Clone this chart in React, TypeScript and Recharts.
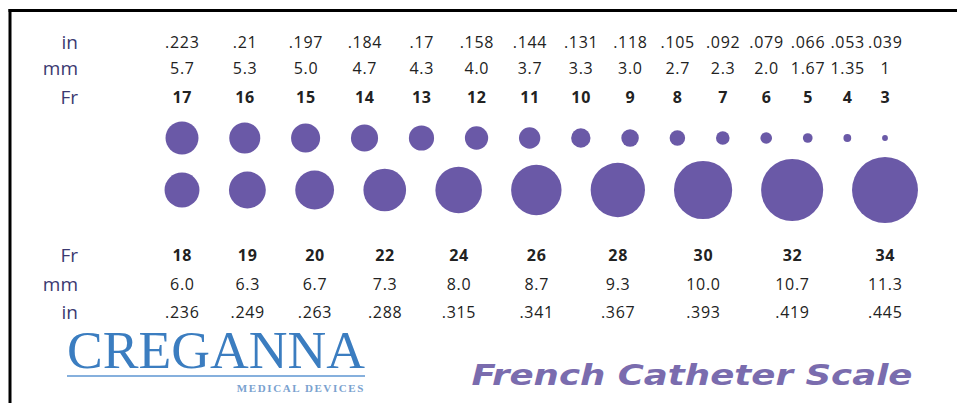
import React from 'react';
import { ScatterChart, Scatter, XAxis, YAxis, Customized } from 'recharts';

// ---- data ----
const topFr = [17, 16, 15, 14, 13, 12, 11, 10, 9, 8, 7, 6, 5, 4, 3];
const topMm = ['5.7', '5.3', '5.0', '4.7', '4.3', '4.0', '3.7', '3.3', '3.0', '2.7', '2.3', '2.0', '1.67', '1.35', '1'];
const topIn = ['.223', '.21', '.197', '.184', '.17', '.158', '.144', '.131', '.118', '.105', '.092', '.079', '.066', '.053', '.039'];

const bottomFr = [18, 19, 20, 22, 24, 26, 28, 30, 32, 34];
const bottomMm = ['6.0', '6.3', '6.7', '7.3', '8.0', '8.7', '9.3', '10.0', '10.7', '11.3'];
const bottomIn = ['.236', '.249', '.263', '.288', '.315', '.341', '.367', '.393', '.419', '.445'];

const rowLabelsTop = ['in', 'mm', 'Fr'];
const rowLabelsBottom = ['Fr', 'mm', 'in'];
const brand = 'CREGANNA';
const brandSub = 'MEDICAL DEVICES';
const title = 'French Catheter Scale';

// ---- layout helpers (derived from data) ----
const GAP = 16; // spacing between circles, in French units
function layoutRow(frs: number[], row: number) {
  let x = 0;
  return frs.map((f, i) => {
    if (i > 0) x += (frs[i - 1] + f) / 2 + GAP;
    return { pos: x, row, fr: f };
  });
}
const topData = layoutRow(topFr, 1);
const bottomData = layoutRow(bottomFr, 0);

const DOT = '#6a59a7';
const LABEL = '#3b3970';
const VALUE = '#222222';
const VALUE_FONT = '"Open Sans", sans-serif';
const VS = 16;
const LS = 0.7;

const circleShape = (props: any) => (
  <circle cx={props.cx} cy={props.cy} r={props.payload.fr * 0.97} fill={DOT} />
);

const Val = ({ x, y, bold, children }: any) => (
  <text x={x + LS / 2} y={y} textAnchor="middle" dominantBaseline="central" fontFamily={VALUE_FONT} fontSize={VS} letterSpacing={LS} fontWeight={bold ? 'bold' : 'normal'} fill={VALUE}>{children}</text>
);

const TopTick = (props: any) => {
  const { x, y, index } = props;
  return (
    <g>
      <Val x={x} y={y - 96}>{topIn[index]}</Val>
      <Val x={x} y={y - 70}>{topMm[index]}</Val>
      <Val x={x} y={y - 41} bold>{topFr[index]}</Val>
    </g>
  );
};

const BottomTick = (props: any) => {
  const { x, y, index } = props;
  return (
    <g>
      <Val x={x} y={y + 65} bold>{bottomFr[index]}</Val>
      <Val x={x} y={y + 94}>{bottomMm[index]}</Val>
      <Val x={x} y={y + 122}>{bottomIn[index]}</Val>
    </g>
  );
};

const Decorations = () => (
  <g>
    {/* frame */}
    <rect x={8.5} y={9} width={949} height={3} fill="#000" />
    <rect x={8.5} y={9} width={3} height={394} fill="#000" />
    {/* row labels */}
    {rowLabelsTop.map((l, i) => (
      <text key={'t' + l} x={78} y={[42, 68, 97][i]} textAnchor="end" dominantBaseline="central" fontFamily={VALUE_FONT} fontSize={19} fill={LABEL}>{l}</text>
    ))}
    {rowLabelsBottom.map((l, i) => (
      <text key={'b' + l} x={78} y={[255, 284, 312][i]} textAnchor="end" dominantBaseline="central" fontFamily={VALUE_FONT} fontSize={19} fill={LABEL}>{l}</text>
    ))}
    {/* logo */}
    <text x={216} y={368} textAnchor="middle" fontFamily='"Liberation Serif", serif' fontSize={52} fill="#3b7dc0" textLength={298} lengthAdjust="spacingAndGlyphs">{brand}</text>
    <rect x={67} y={375} width={298} height={2} fill="#86b0dd" />
    <text x={365} y={392} textAnchor="end" fontFamily='"Liberation Serif", serif' fontSize={11} fontWeight="bold" letterSpacing={1.6} fill="#7aa2cf">{brandSub}</text>
    {/* title */}
    <text x={692} y={385} textAnchor="middle" fontFamily='"DejaVu Sans", sans-serif' fontSize={29} fontWeight="bold" fontStyle="italic" fill="#7a6cae" textLength={441} lengthAdjust="spacingAndGlyphs">{title}</text>
  </g>
);

export default function App() {
  return (
    <div style={{ position: 'absolute', left: 0, top: 0, width: 957, height: 403, background: '#fff' }}>
      <ScatterChart width={957} height={403} margin={{ top: 108, right: 72, bottom: 183, left: 182 }}>
        <XAxis
          xAxisId="top"
          orientation="top"
          type="number"
          dataKey="pos"
          domain={[0, 'dataMax']}
          ticks={topData.map((d) => d.pos)}
          interval={0}
          height={30}
          axisLine={false}
          tickLine={false}
          tickSize={0}
          tickMargin={0}
          tick={<TopTick />}
        />
        <XAxis
          xAxisId="bottom"
          orientation="bottom"
          type="number"
          dataKey="pos"
          domain={[0, 'dataMax']}
          ticks={bottomData.map((d) => d.pos)}
          interval={0}
          height={30}
          axisLine={false}
          tickLine={false}
          tickSize={0}
          tickMargin={0}
          tick={<BottomTick />}
        />
        <YAxis type="number" dataKey="row" domain={[0, 1]} hide />
        <Scatter data={topData} xAxisId="top" shape={circleShape} isAnimationActive={false} />
        <Scatter data={bottomData} xAxisId="bottom" shape={circleShape} isAnimationActive={false} />
        <Customized component={Decorations} />
      </ScatterChart>
    </div>
  );
}
